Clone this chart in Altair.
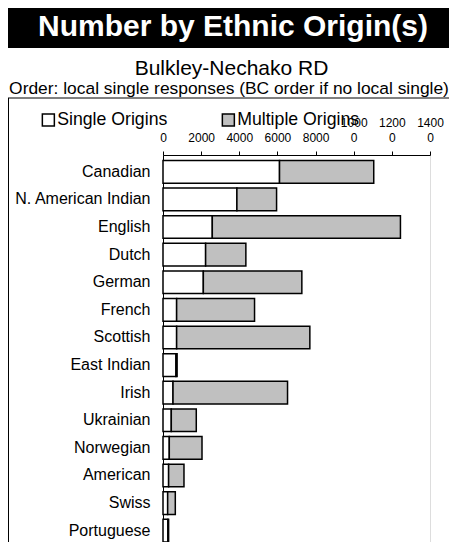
import altair as alt
import pandas as pd

TITLE = "Number by Ethnic Origin(s)"
SUBTITLE = "Bulkley-Nechako RD"
NOTE = "Order: local single responses (BC order if no local single)"

CATEGORIES = ["Canadian", "N. American Indian", "English", "Dutch", "German",
              "French", "Scottish", "East Indian", "Irish", "Ukrainian",
              "Norwegian", "American", "Swiss", "Portuguese"]
SINGLE = [6110, 3875, 2585, 2235, 2115, 715, 715, 680, 525, 435, 330, 295, 245, 255]
MULTIPLE = [4940, 2080, 9865, 2110, 5165, 4085, 6985, 60, 6005, 1310, 1715, 805, 400, 40]
SERIES = ["Single Origins", "Multiple Origins"]
COLORS = ["white", "#c0c0c0"]
TICKS = [0, 2000, 4000, 6000, 8000, 10000, 12000, 14000]

rows = []
for i, c in enumerate(CATEGORIES):
    rows.append({"origin": c, "series": SERIES[0], "value": SINGLE[i], "k": 0})
    rows.append({"origin": c, "series": SERIES[1], "value": MULTIPLE[i], "k": 1})
df = pd.DataFrame(rows)

FONT = "Liberation Sans"
one = alt.Data(values=[{"a": 1}])

bars = alt.Chart(df).mark_bar(stroke="black", strokeWidth=1.5).encode(
    x=alt.X("value:Q", stack="zero",
            scale=alt.Scale(domain=[0, 14000], nice=False),
            axis=alt.Axis(orient="top", values=TICKS, title=None, grid=False,
                          labelExpr="datum.value >= 10000 ? [format(floor(datum.value/10),'d'), '0'] : ['', format(datum.value,'d')]",
                          labelFontSize=12, labelLineHeight=15, labelPadding=33.5,
                          labelBaseline="top",
                          labelFlush=False, labelOverlap=False, tickSize=4,
                          tickColor="black", domainColor="black", labelColor="black",
                          labelFont=FONT)),
    y=alt.Y("origin:N", sort=CATEGORIES,
            scale=alt.Scale(paddingInner=0.18, paddingOuter=0.1, align=1),
            axis=alt.Axis(title=None, ticks=False, tickSize=0, labelPadding=13,
                          labelFontSize=16, labelColor="black", labelFont=FONT,
                          domainColor="black", labelLimit=200)),
    fill=alt.Fill("series:N", scale=alt.Scale(domain=SERIES, range=COLORS),
                  legend=alt.Legend(title=None, orient="none", legendX=-123.5, legendY=-44,
                                    direction="horizontal", columnPadding=51,
                                    symbolType="square", symbolSize=144,
                                    symbolStrokeColor="black", symbolStrokeWidth=1.5,
                                    labelFontSize=17.7, labelFont=FONT, labelColor="black",
                                    labelOffset=0, labelLimit=300)),
    order=alt.Order("k:Q"),
)

box = alt.Chart(one).mark_rect(color="black").encode(
    x=alt.value(-155), x2=alt.value(286), y=alt.value(-148), y2=alt.value(-107))

title = alt.Chart(one).mark_text(font=FONT, fontSize=30, fontWeight="bold", color="white",
                                 align="center", baseline="alphabetic").encode(
    x=alt.value(70), y=alt.value(-119), text=alt.value(TITLE))

sub = alt.Chart(one).mark_text(font=FONT, fontSize=21, color="black",
                               align="center", baseline="alphabetic").encode(
    x=alt.value(68.5), y=alt.value(-80.5), text=alt.value(SUBTITLE))

note = alt.Chart(one).mark_text(font=FONT, fontSize=17.4, color="black",
                                align="center", baseline="alphabetic").encode(
    x=alt.value(66), y=alt.value(-61.5), text=alt.value(NOTE))

hline = alt.Chart(one).mark_rule(color="black", strokeWidth=1).encode(
    x=alt.value(-155), x2=alt.value(286), y=alt.value(-57))

vline = alt.Chart(one).mark_rule(color="black", strokeWidth=1).encode(
    x=alt.value(-154.5), y=alt.value(-57), y2=alt.value(400))

chart = alt.layer(box, title, sub, note, hline, vline, bars).properties(
    width=267, height=387,
    autosize=alt.AutoSizeParams(type="none"),
    padding={"left": 155, "top": 147, "right": 19, "bottom": 0},
).configure_view(stroke=None).configure(background="white")

chart.save("out.html", embed_options={"renderer": "svg", "actions": False})
